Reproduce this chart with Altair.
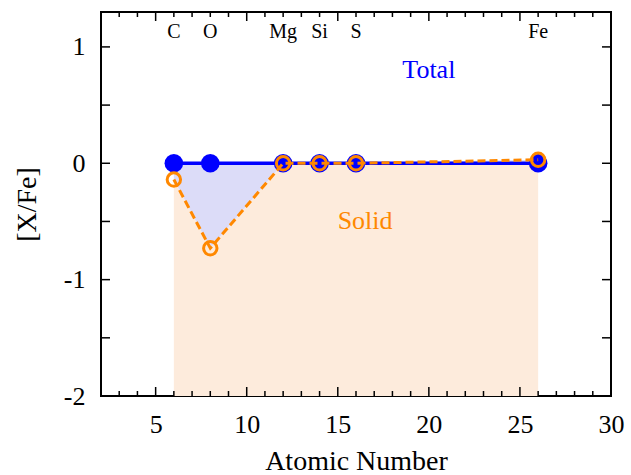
import altair as alt
import pandas as pd

# ---- data ----
elements = ["C", "O", "Mg", "Si", "S", "Fe"]
atomic_number = [6, 8, 12, 14, 16, 26]
total_xfe = [0.0, 0.0, 0.0, 0.0, 0.0, 0.0]
solid_xfe = [-0.14, -0.73, 0.0, 0.0, 0.0, 0.03]

annot_text = ["Total", "Solid"]
annot_x = [20.0, 16.5]
annot_y = [0.8, -0.5]

x_major = [5, 10, 15, 20, 25]
x_minor = [3, 4, 6, 7, 8, 9, 11, 12, 13, 14, 16, 17, 18, 19, 21, 22, 23, 24, 26, 27, 28, 29]
y_ticks = [-1.5, -1.0, -0.5, 0.0, 0.5, 1.0]

BLUE = "#0000ff"
ORANGE = "#ff8800"
W, H = 510, 384
FONT = "Liberation Serif"

df = pd.DataFrame({"el": elements, "z": atomic_number, "total": total_xfe, "solid": solid_xfe})
ann = pd.DataFrame({"t": annot_text, "x": annot_x, "y": annot_y, "c": [BLUE, ORANGE]})
xmaj = pd.DataFrame({"t": x_major})
xmin = pd.DataFrame({"t": x_minor})
yt = pd.DataFrame({"t": y_ticks})

xs = alt.Scale(domain=[2, 30], nice=False, zero=False)
ys = alt.Scale(domain=[-2, 1.3], nice=False, zero=False)

xaxis = alt.Axis(title="Atomic Number", values=[5, 10, 15, 20, 25, 30], grid=False, ticks=False,
                 tickSize=0, domain=False, labelFontSize=26, labelPadding=36,
                 labelBaseline="alphabetic", titleFontSize=28, titleFontWeight="normal",
                 titleY=73, titleBaseline="alphabetic", labelFlush=False, labelFont=FONT, titleFont=FONT,
                 labelColor="black", titleColor="black", labelExpr="'' + datum.value")
yaxis = alt.Axis(title="[X/Fe]", values=[-2, -1, 0, 1], grid=False, ticks=False, tickSize=0,
                 domain=False, labelFontSize=26, labelPadding=16, titleFontSize=28,
                 titleFontWeight="normal", titleX=-66, titleBaseline="alphabetic",
                 labelFlush=False, labelFont=FONT, titleFont=FONT, labelColor="black", titleColor="black",
                 labelExpr="'' + datum.value")

base = alt.Chart(df)

orange_area = base.mark_area(color="#fdebdc", opacity=1).encode(
    x=alt.X("z:Q", scale=xs, axis=xaxis),
    y=alt.Y("solid:Q", scale=ys, axis=yaxis),
    y2=alt.datum(-2),
)
blue_area = base.mark_area(color="#dcdcf8", opacity=1).encode(
    x=alt.X("z:Q", scale=xs), y=alt.Y("solid:Q", scale=ys), y2="total:Q"
)
blue_line = base.mark_line(color=BLUE, strokeWidth=3.5).encode(
    x=alt.X("z:Q", scale=xs), y=alt.Y("total:Q", scale=ys)
)
blue_pts = base.mark_point(filled=True, shape="circle", size=346, color=BLUE, opacity=1).encode(
    x=alt.X("z:Q", scale=xs), y=alt.Y("total:Q", scale=ys)
)
orange_line = base.mark_line(color=ORANGE, strokeWidth=3, strokeDash=[8, 4]).encode(
    x=alt.X("z:Q", scale=xs), y=alt.Y("solid:Q", scale=ys)
)
orange_pts = base.mark_point(filled=False, shape="circle", size=180, color=ORANGE,
                             strokeWidth=3, opacity=1).encode(
    x=alt.X("z:Q", scale=xs), y=alt.Y("solid:Q", scale=ys)
)
el_text = base.mark_text(fontSize=20, font=FONT, baseline="alphabetic", color="black").encode(
    x=alt.X("z:Q", scale=xs), y=alt.value(26), text="el:N"
)
ann_text = alt.Chart(ann).mark_text(fontSize=26, font=FONT, baseline="middle").encode(
    x=alt.X("x:Q", scale=xs), y=alt.Y("y:Q", scale=ys), text="t:N",
    color=alt.Color("c:N", scale=None),
)

tick_style = dict(color="black", strokeWidth=1.5, opacity=1)
bot_major = alt.Chart(xmaj).mark_rule(**tick_style).encode(
    x=alt.X("t:Q", scale=xs), y=alt.value(H), y2=alt.value(H - 9))
top_major = alt.Chart(xmaj).mark_rule(**tick_style).encode(
    x=alt.X("t:Q", scale=xs), y=alt.value(0), y2=alt.value(9))
bot_minor = alt.Chart(xmin).mark_rule(**tick_style).encode(
    x=alt.X("t:Q", scale=xs), y=alt.value(H), y2=alt.value(H - 5))
top_minor = alt.Chart(xmin).mark_rule(**tick_style).encode(
    x=alt.X("t:Q", scale=xs), y=alt.value(0), y2=alt.value(5))
left_t = alt.Chart(yt).mark_rule(**tick_style).encode(
    y=alt.Y("t:Q", scale=ys), x=alt.value(0), x2=alt.value(9))
right_t = alt.Chart(yt).mark_rule(**tick_style).encode(
    y=alt.Y("t:Q", scale=ys), x=alt.value(W), x2=alt.value(W - 9))

chart = alt.layer(
    orange_area, blue_area, blue_line, blue_pts, orange_line, orange_pts,
    el_text, ann_text, bot_major, top_major, bot_minor, top_minor, left_t, right_t,
).properties(
    width=W, height=H,
    autosize=alt.AutoSizeParams(type="none"),
    padding={"left": 101, "top": 12, "right": 20, "bottom": 79},
    background="white",
).configure(font=FONT).configure_view(stroke="black", strokeWidth=2)

chart.save("out.html", embed_options={"renderer": "svg", "actions": False})
